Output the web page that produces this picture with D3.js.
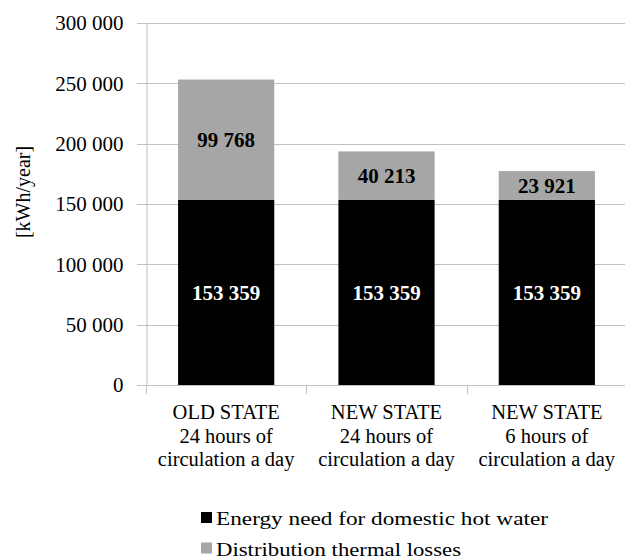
<!DOCTYPE html>
<html>
<head>
<meta charset="utf-8">
<script src="https://cdn.jsdelivr.net/npm/d3@7"></script>
<style>
  html, body { margin: 0; padding: 0; background: #fff; }
  svg { display: block; }
</style>
</head>
<body>
<svg id="chart" width="625" height="560" font-family="Liberation Serif, Times New Roman, serif"></svg>
<script>
// Annual energy of the hot water system, by operating scenario
const categories = [
  ["OLD STATE", "24 hours of", "circulation a day"],
  ["NEW STATE", "24 hours of", "circulation a day"],
  ["NEW STATE", "6 hours of", "circulation a day"]
];
const seriesNames = ["Energy need for domestic hot water", "Distribution thermal losses"];
const energyNeed = [153359, 153359, 153359];
const thermalLosses = [99768, 40213, 23921];
const yTicks = [0, 50000, 100000, 150000, 200000, 250000, 300000];
const yLabel = "[kWh/year]";

const SERIF = "Liberation Serif";
const colors = ["#000000", "#a6a6a6"];
const gridColor = "#c0c0c0";
const svg = d3.select("#chart");
const margin = { left: 146, right: -2, top: 23, bottom: 175 };
const W = 625, H = 560;

const x = d3.scaleBand()
  .domain(d3.range(categories.length))
  .range([margin.left, W - margin.right])
  .paddingInner(0.4).paddingOuter(0.2);
const y = d3.scaleLinear().domain([0, 300000]).range([H - margin.bottom, margin.top]);

const fmt = v => d3.format(",")(v).replace(/,/g, " ");

// horizontal gridlines with short ticks left of the axis
svg.append("g").selectAll("line").data(yTicks).join("line")
  .attr("x1", margin.left - 9).attr("x2", W)
  .attr("y1", d => Math.round(y(d)) + 0.5).attr("y2", d => Math.round(y(d)) + 0.5)
  .attr("stroke", gridColor).attr("stroke-width", 1);

// value axis
const yAxis = d3.axisLeft(y).tickValues(yTicks).tickFormat(fmt).tickSize(0).tickPadding(23);
const gy = svg.append("g").attr("transform", `translate(${margin.left + 0.5},0)`).call(yAxis);
gy.attr("font-family", SERIF).attr("font-size", 21);
gy.select(".domain").attr("stroke", gridColor);
gy.selectAll("text").attr("fill", "#000").attr("dy", "0.33em");

// category axis tick marks between groups
const bounds = d3.range(categories.length + 1).map(i => margin.left + i * x.step());
svg.append("g").selectAll("line").data(bounds).join("line")
  .attr("x1", d => Math.round(d) + 0.5).attr("x2", d => Math.round(d) + 0.5)
  .attr("y1", y(0)).attr("y2", y(0) + 9)
  .attr("stroke", gridColor);

// stacked bars
const stackData = categories.map((c, i) => ({ i, need: energyNeed[i], loss: thermalLosses[i] }));
const stacked = d3.stack().keys(["need", "loss"])(stackData);
const bars = svg.append("g");
stacked.forEach((layer, k) => {
  bars.selectAll(null).data(layer).join("rect")
    .attr("x", d => x(d.data.i))
    .attr("width", x.bandwidth())
    .attr("y", d => y(d[1]))
    .attr("height", d => y(d[0]) - y(d[1]))
    .attr("fill", colors[k]);
  bars.selectAll(null).data(layer).join("text")
    .attr("x", d => x(d.data.i) + x.bandwidth() / 2)
    .attr("y", d => (y(d[0]) + y(d[1])) / 2)
    .attr("dy", "0.34em")
    .attr("text-anchor", "middle")
    .attr("font-family", SERIF)
    .attr("font-size", 21).attr("font-weight", "bold")
    .attr("fill", k === 0 ? "#fff" : "#000")
    .text(d => fmt(d[1] - d[0]));
});

// category labels
categories.forEach((lines, i) => {
  const cx = x(i) + x.bandwidth() / 2;
  const t = svg.append("text")
    .attr("text-anchor", "middle").attr("font-family", SERIF)
    .attr("font-size", 20.5).attr("fill", "#000");
  lines.forEach((s, j) => t.append("tspan").attr("x", cx).attr("y", 419 + j * 23.5).text(s));
});

// axis title
svg.append("text")
  .attr("transform", `translate(30,${192}) rotate(-90)`)
  .attr("text-anchor", "middle").attr("font-family", SERIF)
  .attr("font-size", 20).attr("fill", "#000")
  .text(yLabel);

// legend
const legendWidths = [332, 245];
seriesNames.forEach((name, k) => {
  const base = 525 + k * 30.5;
  svg.append("rect").attr("x", 201).attr("y", base - 13).attr("width", 11).attr("height", 11).attr("fill", colors[k]);
  svg.append("text").attr("x", 216).attr("y", base)
    .attr("font-family", SERIF).attr("font-size", 18).attr("fill", "#000")
    .attr("textLength", legendWidths[k]).attr("lengthAdjust", "spacingAndGlyphs")
    .text(name);
});
</script>
</body>
</html>
